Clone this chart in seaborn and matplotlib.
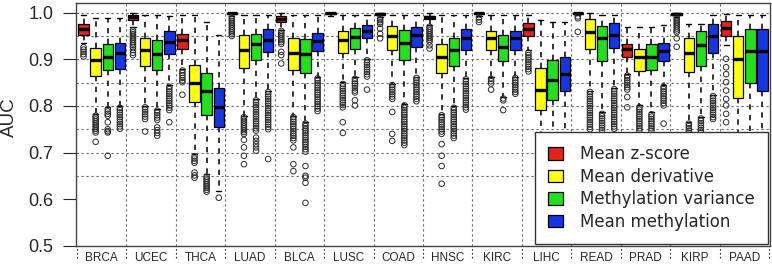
import matplotlib
matplotlib.use("Agg")
import matplotlib.pyplot as plt
import seaborn as sns
import pandas as pd

# %% chart data
cancers = ["BRCA", "UCEC", "THCA", "LUAD", "BLCA", "LUSC", "COAD",
           "HNSC", "KIRC", "LIHC", "READ", "PRAD", "KIRP", "PAAD"]
methods = ["Mean z-score", "Mean derivative",
           "Methylation variance", "Mean methylation"]
colors = ["#e2231a", "#ffff10", "#22e01c", "#1636e6"]

# box summaries per cancer: (lower whisker, q1, median, q3, upper whisker)
zscore = [(0.935, 0.953, 0.965, 0.976, 0.995), (0.970, 0.985, 0.991, 0.996, 0.999),
          (0.880, 0.922, 0.942, 0.955, 0.995), (0.993, 0.997, 0.999, 1.000, 1.000),
          (0.963, 0.981, 0.986, 0.993, 0.999), (0.994, 0.997, 0.999, 1.000, 1.000),
          (0.990, 0.996, 0.998, 1.000, 1.000), (0.974, 0.986, 0.990, 0.994, 0.999),
          (0.993, 0.997, 0.999, 1.000, 1.000), (0.920, 0.950, 0.964, 0.977, 0.995),
          (0.996, 0.998, 0.999, 1.000, 1.000), (0.868, 0.906, 0.923, 0.932, 0.970),
          (0.990, 0.996, 0.998, 1.000, 1.000), (0.930, 0.950, 0.968, 0.983, 0.998)]
derivative = [(0.783, 0.865, 0.898, 0.924, 0.988), (0.800, 0.886, 0.919, 0.946, 0.995),
              (0.696, 0.809, 0.850, 0.888, 0.995), (0.779, 0.881, 0.919, 0.952, 0.995),
              (0.779, 0.876, 0.914, 0.945, 0.995), (0.851, 0.914, 0.941, 0.961, 0.995),
              (0.848, 0.919, 0.950, 0.971, 0.995), (0.783, 0.871, 0.905, 0.932, 0.995),
              (0.862, 0.919, 0.945, 0.961, 0.995), (0.700, 0.791, 0.835, 0.881, 0.985),
              (0.833, 0.923, 0.959, 0.986, 0.999), (0.801, 0.874, 0.904, 0.923, 0.970),
              (0.765, 0.873, 0.914, 0.946, 0.975), (0.700, 0.817, 0.900, 0.950, 0.995)]
variance = [(0.797, 0.876, 0.905, 0.932, 0.988), (0.793, 0.878, 0.912, 0.942, 0.995),
            (0.653, 0.781, 0.832, 0.871, 0.980), (0.815, 0.898, 0.932, 0.955, 0.995),
            (0.765, 0.871, 0.912, 0.943, 0.995), (0.862, 0.923, 0.948, 0.968, 0.995),
            (0.804, 0.899, 0.935, 0.963, 0.995), (0.799, 0.885, 0.919, 0.945, 0.995),
            (0.819, 0.896, 0.927, 0.952, 0.995), (0.700, 0.813, 0.855, 0.898, 0.980),
            (0.786, 0.896, 0.945, 0.972, 0.995), (0.787, 0.878, 0.906, 0.932, 0.970),
            (0.776, 0.886, 0.930, 0.961, 0.975), (0.700, 0.850, 0.918, 0.966, 0.995)]
methylation = [(0.800, 0.880, 0.914, 0.936, 0.988), (0.844, 0.912, 0.937, 0.961, 0.993),
               (0.617, 0.754, 0.797, 0.839, 0.952), (0.833, 0.916, 0.942, 0.966, 0.995),
               (0.862, 0.917, 0.939, 0.957, 0.995), (0.901, 0.945, 0.961, 0.973, 0.995),
               (0.863, 0.927, 0.952, 0.970, 0.995), (0.860, 0.921, 0.945, 0.964, 0.995),
               (0.863, 0.919, 0.945, 0.961, 0.995), (0.700, 0.831, 0.868, 0.904, 0.980),
               (0.839, 0.924, 0.952, 0.978, 0.995), (0.844, 0.896, 0.918, 0.935, 0.973),
               (0.824, 0.914, 0.950, 0.975, 0.995), (0.700, 0.833, 0.918, 0.966, 0.995)]

# outliers per cancer
zscore_out = [
    [0.926, 0.921, 0.916, 0.911, 0.906],
    [0.962, 0.958, 0.954, 0.950, 0.946, 0.942, 0.938, 0.934, 0.930, 0.926, 0.920, 0.914, 0.909],
    [0.876, 0.871, 0.866, 0.860, 0.855, 0.851, 0.824],
    [0.990, 0.986, 0.982, 0.978, 0.974, 0.970, 0.966, 0.962, 0.958, 0.954, 0.950],
    [0.961, 0.957, 0.953, 0.949, 0.945, 0.941, 0.937, 0.933, 0.916, 0.909, 0.891],
    [],
    [0.988, 0.984, 0.980, 0.976, 0.966, 0.955, 0.945],
    [0.970, 0.966, 0.962, 0.958, 0.954, 0.950, 0.946, 0.942, 0.938, 0.930, 0.923],
    [0.990, 0.985, 0.980],
    [0.914, 0.909, 0.904, 0.899, 0.894, 0.889, 0.884, 0.879, 0.874],
    [0.992, 0.988, 0.959],
    [0.865, 0.860, 0.855, 0.850, 0.845, 0.840, 0.835, 0.819, 0.797],
    [0.990, 0.986, 0.982, 0.978, 0.974, 0.970, 0.966, 0.962, 0.958, 0.945, 0.927],
    [0.901, 0.883, 0.868, 0.851, 0.833, 0.815, 0.801, 0.783, 0.765]]
derivative_out = [
    [0.779, 0.775, 0.771, 0.767, 0.763, 0.759, 0.755, 0.751, 0.747, 0.743, 0.723],
    [0.797, 0.792, 0.787, 0.782, 0.777, 0.772, 0.745],
    [0.692, 0.687, 0.682, 0.678, 0.657, 0.651, 0.646],
    [0.776, 0.772, 0.768, 0.764, 0.760, 0.756, 0.752, 0.748, 0.744, 0.740, 0.727, 0.711, 0.693, 0.675],
    [0.776, 0.771, 0.766, 0.761, 0.756, 0.751, 0.746, 0.741, 0.736, 0.731, 0.726, 0.711, 0.675, 0.660],
    [0.847, 0.842, 0.837, 0.832, 0.827, 0.822, 0.817, 0.812, 0.807, 0.802, 0.797, 0.765, 0.742],
    [0.845, 0.840, 0.835, 0.830, 0.825, 0.820, 0.815, 0.787, 0.740, 0.725],
    [0.780, 0.775, 0.770, 0.765, 0.760, 0.755, 0.750, 0.745, 0.740, 0.718, 0.693, 0.671, 0.633],
    [0.858, 0.853, 0.848, 0.835],
    [],
    [0.830, 0.825, 0.820, 0.815, 0.810, 0.805, 0.800, 0.795, 0.790, 0.785, 0.780, 0.775,
     0.770, 0.765, 0.760, 0.755, 0.750],
    [0.797, 0.792, 0.787, 0.782, 0.777, 0.772, 0.767, 0.762, 0.757, 0.752, 0.747],
    [0.762, 0.757, 0.752, 0.747, 0.742],
    []]
variance_out = [
    [0.793, 0.788, 0.783, 0.779, 0.765, 0.750, 0.746, 0.743, 0.693],
    [0.790, 0.785, 0.780, 0.775, 0.770, 0.754, 0.748, 0.742, 0.736],
    [0.648, 0.644, 0.640, 0.636, 0.632, 0.628, 0.624, 0.620, 0.616],
    [0.812, 0.807, 0.802, 0.797, 0.792, 0.787, 0.782, 0.777, 0.772, 0.767, 0.762, 0.757,
     0.752, 0.747, 0.732, 0.725, 0.718, 0.711, 0.704],
    [0.762, 0.757, 0.752, 0.747, 0.742, 0.737, 0.732, 0.727, 0.722, 0.717, 0.712, 0.707,
     0.702, 0.671, 0.650, 0.646, 0.635, 0.592],
    [0.858, 0.853, 0.848, 0.843, 0.838, 0.833, 0.829, 0.812, 0.801],
    [0.801, 0.796, 0.791, 0.786, 0.781, 0.776, 0.771, 0.766, 0.761, 0.756, 0.751, 0.746,
     0.741, 0.736, 0.731, 0.726, 0.721, 0.716],
    [0.796, 0.791, 0.786, 0.781, 0.776, 0.771, 0.766, 0.761, 0.756, 0.751, 0.746, 0.741,
     0.736, 0.731],
    [0.816, 0.812, 0.791],
    [],
    [0.783, 0.778, 0.773, 0.768, 0.763, 0.758, 0.753, 0.748],
    [0.782, 0.777, 0.772, 0.767, 0.762, 0.757, 0.752, 0.747],
    [0.773, 0.768, 0.763, 0.758, 0.753, 0.748, 0.743],
    []]
methylation_out = [
    [0.796, 0.791, 0.786, 0.781, 0.776, 0.771, 0.766, 0.761, 0.756, 0.751],
    [0.841, 0.836, 0.831, 0.826, 0.821, 0.816, 0.811, 0.806, 0.801, 0.796, 0.791, 0.765],
    [0.603],
    [0.830, 0.825, 0.820, 0.815, 0.810, 0.805, 0.800, 0.795, 0.790, 0.785, 0.780, 0.775,
     0.770, 0.765, 0.760, 0.755, 0.750, 0.686],
    [0.859, 0.854, 0.849, 0.844, 0.839, 0.834, 0.829, 0.824, 0.819, 0.814, 0.809, 0.804,
     0.799, 0.794, 0.789],
    [0.898, 0.893, 0.888, 0.883, 0.878, 0.873, 0.868, 0.863, 0.835],
    [0.860, 0.855, 0.850, 0.845, 0.840, 0.835, 0.830, 0.825, 0.820, 0.815, 0.810],
    [0.857, 0.852, 0.847, 0.842, 0.837, 0.832, 0.827, 0.822, 0.817, 0.812, 0.807, 0.802,
     0.797, 0.792],
    [0.860, 0.855, 0.850, 0.845, 0.840, 0.835, 0.830, 0.826],
    [],
    [0.836, 0.831, 0.826, 0.821, 0.816, 0.811, 0.806, 0.801, 0.796, 0.791, 0.786, 0.781,
     0.776, 0.771, 0.766, 0.761, 0.756, 0.751],
    [0.841, 0.836, 0.831, 0.826, 0.821, 0.816, 0.811, 0.806, 0.801, 0.762],
    [0.821, 0.816, 0.811, 0.806, 0.801, 0.796, 0.791, 0.786, 0.781, 0.776, 0.772],
    []]

# %% long tables for seaborn
summaries = [zscore, derivative, variance, methylation]
outliers = [zscore_out, derivative_out, variance_out, methylation_out]
slot = 0.245  # spacing of the four boxes inside a cancer group

box_rows, out_rows = [], []
for j, method in enumerate(methods):
    for i, cancer in enumerate(cancers):
        pos = i + (j - 1.5) * slot
        for v in summaries[j][i]:
            box_rows.append((cancer, method, pos, v))
        for v in outliers[j][i]:
            out_rows.append((cancer, method, pos, v))
box_df = pd.DataFrame(box_rows, columns=["cancer", "method", "pos", "auc"])
out_df = pd.DataFrame(out_rows, columns=["cancer", "method", "pos", "auc"])

# %% figure
sns.set_style("white")
plt.rcParams["font.family"] = ["Liberation Sans", "DejaVu Sans"]

fig = plt.figure(figsize=(7.72, 2.65), dpi=100)
ax = fig.add_axes([76 / 772, 1 - 246 / 265, 694 / 772, 242.7 / 265])

bounds = [i - 0.5 for i in range(len(cancers) + 1)]
grid_kw = dict(color="#666666", lw=0.8, linestyle=(0, (2, 2.5)), zorder=0)
for b in bounds[1:-1]:
    ax.axvline(b, **grid_kw)
for yv in [0.65, 0.7, 0.75, 0.8, 0.85, 0.9, 0.95, 1.0]:
    ax.axhline(yv, **grid_kw)

sns.boxplot(data=box_df, x="pos", y="auc", hue="method", hue_order=methods,
            palette=colors, native_scale=True, dodge=False, orient="x",
            width=0.86, whis=(0, 100), saturation=1, linecolor="black",
            linewidth=0.9, showfliers=False,
            medianprops=dict(linewidth=2.4),
            whiskerprops=dict(linestyle=(0, (3.2, 3.2)), linewidth=1.2,
                              color="#111111"),
            capprops=dict(linewidth=1.0), ax=ax)

sns.scatterplot(data=out_df, x="pos", y="auc", color="#2a2a2a", s=16,
                linewidth=0.7, legend=False, ax=ax, zorder=3)
pts = ax.collections[-1]
pts.set_facecolor("none")
pts.set_edgecolor("#2a2a2a")

ax.set_xlim(-0.52, 13.52)
ax.set_ylim(0.4994, 1.0202)
ax.set_yticks([0.5, 0.6, 0.7, 0.8, 0.9, 1.0])
ax.set_yticklabels(["0.5", "0.6", "0.7", "0.8", "0.9", "1.0"])
ax.set_xticks(range(len(cancers)))
ax.set_xticklabels(cancers, family=["Liberation Sans Narrow", "Liberation Sans"])
ax.tick_params(axis="x", length=0, pad=4.5, labelsize=8.5)
ax.tick_params(axis="y", direction="out", length=9.4, width=0.8,
               pad=7, labelsize=13, left=True)
ax.set_xlabel("")
ax.set_ylabel("AUC", fontsize=13.5)
ax.yaxis.set_label_coords(-0.084, 0.53)

# dotted tick marks under the axis at group borders
ax.vlines(bounds, -0.05, 0, transform=ax.get_xaxis_transform(), clip_on=False,
          colors="#333333", linewidth=0.8, linestyles=(0, (1.5, 2)))

for sp in ax.spines.values():
    sp.set_color("#444444")
    sp.set_linewidth(1.0)

sns.move_legend(ax, "lower right", bbox_to_anchor=(1.0, 0.0), title=None,
                frameon=True, prop={"family": "DejaVu Sans", "size": 12},
                handlelength=0.9, handleheight=0.8,
                handletextpad=1.0, labelspacing=0.27, borderpad=0.8,
                borderaxespad=0.12, fancybox=False, framealpha=1)
leg = ax.get_legend()
leg.get_frame().set_edgecolor("#333333")
leg.get_frame().set_linewidth(1.0)

fig.savefig("out.png", dpi=100)
